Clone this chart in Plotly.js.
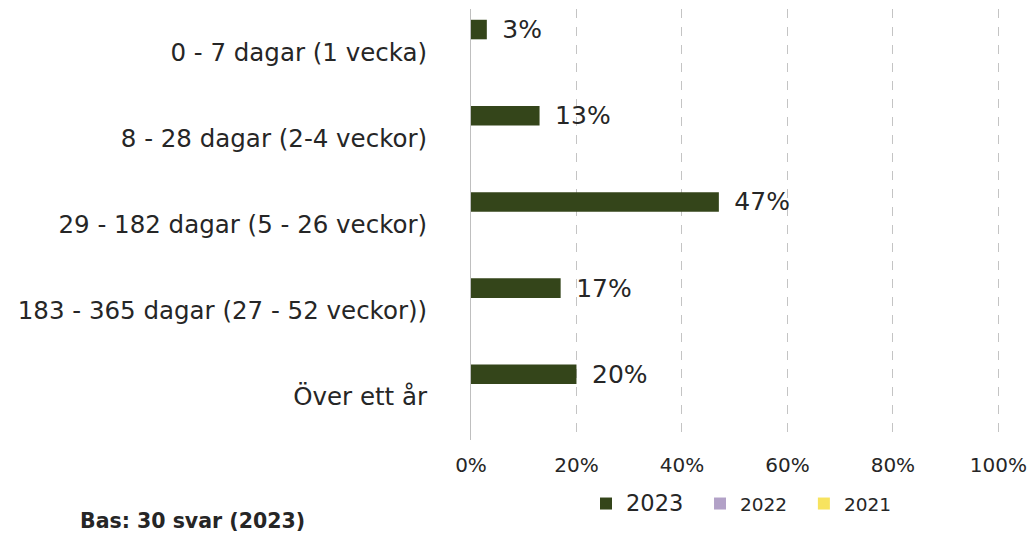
<!DOCTYPE html>
<html>
<head>
<meta charset="utf-8">
<script src="https://cdn.plot.ly/plotly-3.0.1.min.js"></script>
<style>html,body{margin:0;padding:0;background:#fff;}#chart{width:1033px;height:536px;}</style>
</head>
<body>
<div id="chart"></div>
<script>
const categories = [
  "0 - 7 dagar (1 vecka)",
  "8 - 28 dagar (2-4 veckor)",
  "29 - 182 dagar (5 - 26 veckor)",
  "183 - 365 dagar (27 - 52 veckor))",
  "Över ett år"
];
const values2023 = [3, 13, 47, 17, 20];
const values2022 = [null, null, null, null, null];
const values2021 = [null, null, null, null, null];
const seriesNames = ["2023", "2022", "2021"];
const xTickVals = [0, 20, 40, 60, 80, 100];
const xTickText = ["0%", "20%", "40%", "60%", "80%", "100%"];
const baseNote = "Bas: 30 svar (2023)";

const FONT = "DejaVu Sans, Verdana, sans-serif";
const NB = "\u00a0";

const traces = [
  {
    type: "bar", orientation: "h",
    name: '<span style="font-size:22.5px">' + seriesNames[0] + '</span>' + NB + NB,
    y: categories, x: values2023,
    marker: {color: "#34451A"},
    text: values2023.map(v => v == null ? "" : "\u2002" + v + "%"),
    textposition: "outside", cliponaxis: false, constraintext: "none",
    textfont: {family: FONT, size: 25, color: "#262626"},
    hoverinfo: "x+y"
  },
  {
    type: "bar", orientation: "h", name: seriesNames[1] + NB + NB,
    y: categories, x: values2022,
    marker: {color: "#B2A1C7"}
  },
  {
    type: "bar", orientation: "h", name: seriesNames[2],
    y: categories, x: values2021,
    marker: {color: "#F7E35F"}
  }
];

const layout = {
  width: 1033, height: 536,
  margin: {l: 471, r: 32, t: 9, b: 96},
  paper_bgcolor: "#ffffff", plot_bgcolor: "#ffffff",
  barmode: "group", bargap: 0.215, bargroupgap: 0.133,
  font: {family: FONT, color: "#262626"},
  showlegend: true,
  legend: {
    orientation: "h", xref: "container", yref: "container",
    x: 586 / 1033, xanchor: "left",
    y: 32 / 536, yanchor: "middle",
    font: {family: FONT, size: 18.5, color: "#262626"},
    itemwidth: 30, traceorder: "normal"
  },
  xaxis: {
    range: [0, 100.5], tickvals: xTickVals, ticktext: xTickText,
    showgrid: true, gridcolor: "#c4c4c4", griddash: "dash", gridwidth: 1,
    zeroline: false, showline: false,
    ticks: "outside", ticklen: 7, tickcolor: "rgba(0,0,0,0)",
    tickfont: {family: FONT, size: 20, color: "#262626"},
    fixedrange: true
  },
  yaxis: {
    type: "category", autorange: "reversed",
    showline: true, linecolor: "#bfbfbf", linewidth: 1,
    showgrid: false, zeroline: false,
    ticks: "", ticklabelstandoff: 38,
    tickfont: {family: FONT, size: 24.5, color: "#262626"},
    fixedrange: true
  },
  annotations: [{
    text: "<b>" + baseNote + "</b>",
    xref: "paper", yref: "paper", x: -393 / 530, y: -81 / 431,
    xanchor: "left", yanchor: "middle", showarrow: false,
    font: {family: FONT, size: 20.5, color: "#262626"}
  }]
};

Plotly.newPlot("chart", traces, layout, {displayModeBar: false});
</script>
</body>
</html>
